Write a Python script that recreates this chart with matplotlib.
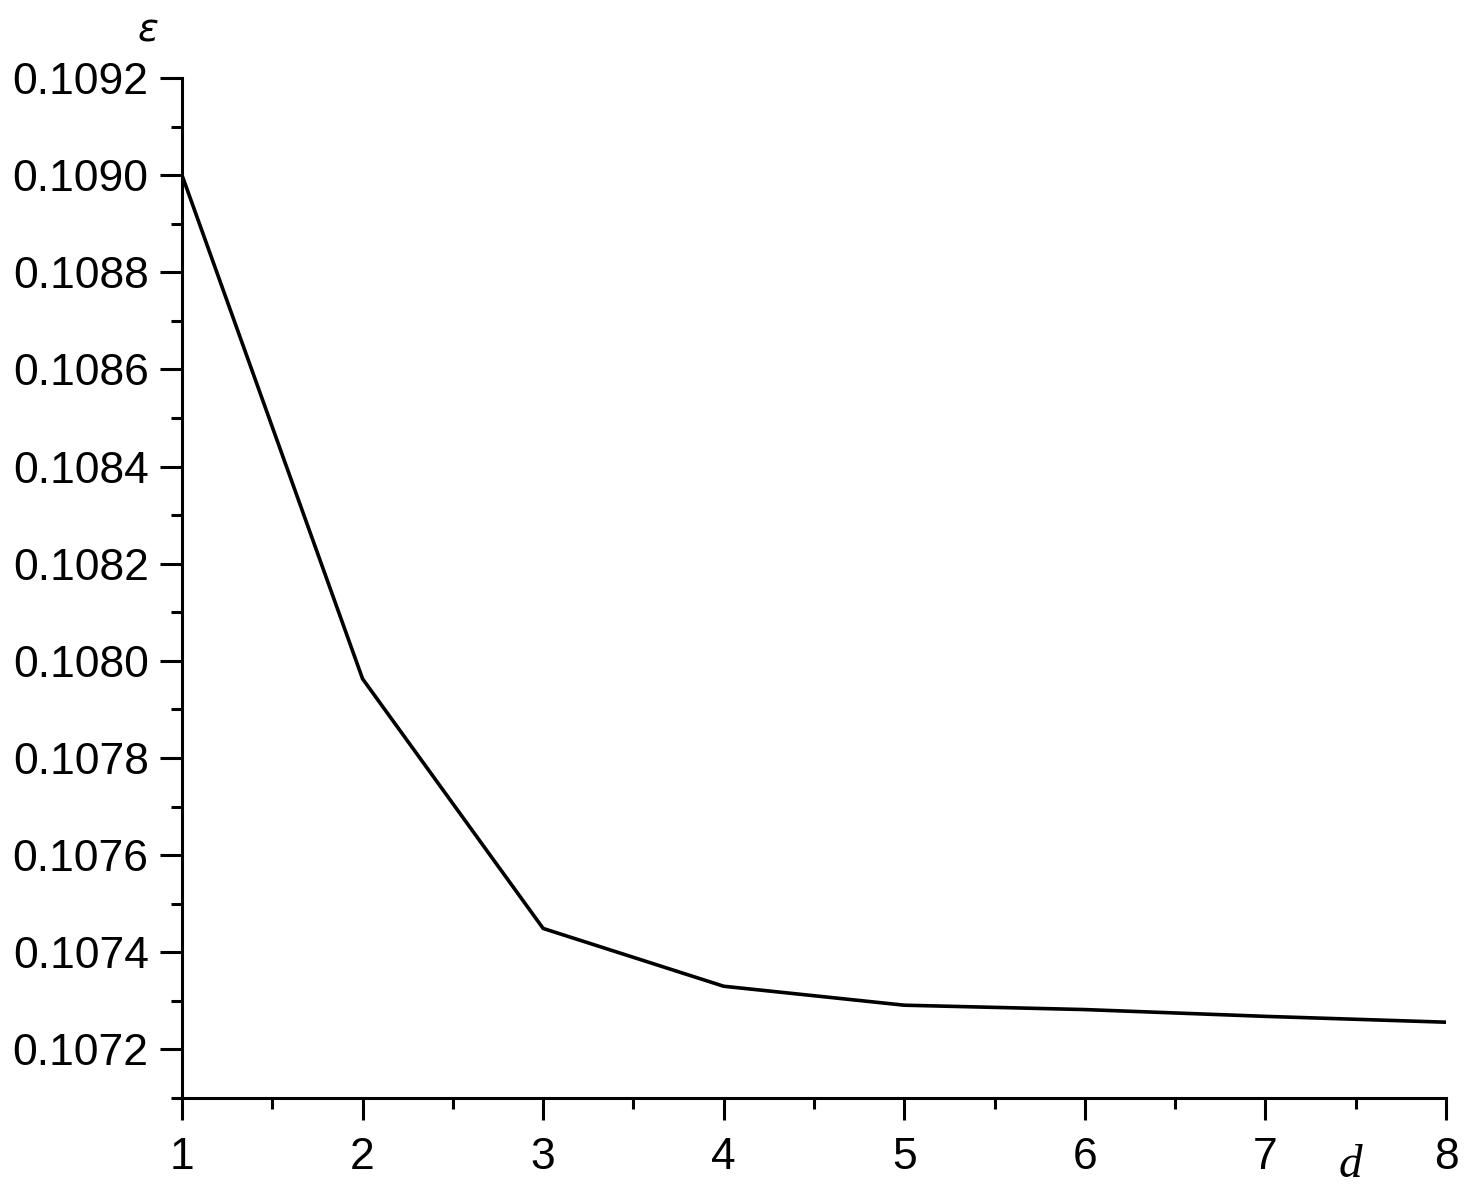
import matplotlib.pyplot as plt
from matplotlib.ticker import MultipleLocator, FormatStrFormatter

# error vs dimension d
d = [1, 2, 3, 4, 5, 6, 7, 8]
eps = [0.10900, 0.107963, 0.107449, 0.107330, 0.107291, 0.107282, 0.107268, 0.107256]

plt.rcParams['font.family'] = ['Liberation Sans', 'DejaVu Sans']

fig = plt.figure(figsize=(14.76, 11.98), dpi=100)
ax = fig.add_axes([0.1233, 0.0835, 0.8564, 0.8514])

ax.plot(d, eps, color="black", linewidth=2.6)

ax.set_xlim(1, 8)
ax.set_ylim(0.1071, 0.1092)

ax.xaxis.set_major_locator(MultipleLocator(1))
ax.xaxis.set_minor_locator(MultipleLocator(0.5))
ax.yaxis.set_major_locator(MultipleLocator(0.0002))
ax.yaxis.set_minor_locator(MultipleLocator(0.0001))
ax.yaxis.set_major_formatter(FormatStrFormatter("%.4f"))

ax.spines["top"].set_visible(False)
ax.spines["right"].set_visible(False)
for s in ("left", "bottom"):
    ax.spines[s].set_linewidth(2.2)

ax.tick_params(which="major", direction="out", length=16, width=2.2,
               labelsize=32, pad=8)
ax.tick_params(which="minor", direction="out", length=8, width=2.2)
ax.tick_params(axis="x", which="major", pad=12)

fig.text(0.100, 0.975, r"$\varepsilon$", fontsize=28, family="DejaVu Serif",
         ha="center", va="center")
ax.text(7.47, 0.10696, "d", fontsize=34, family="Liberation Serif",
        style="italic", ha="center", va="center")

fig.savefig("out.png", dpi=100)
